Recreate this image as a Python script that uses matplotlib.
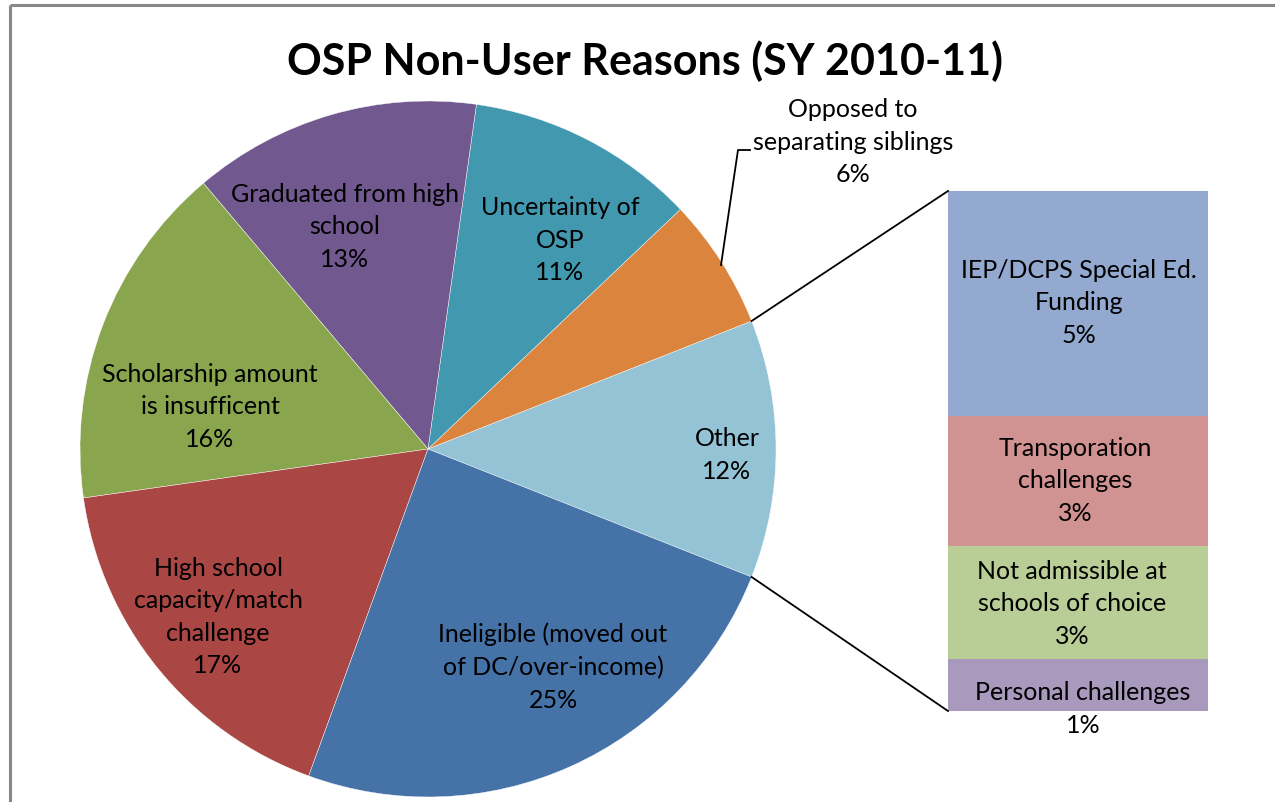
import numpy as np
import matplotlib
matplotlib.use("Agg")
import matplotlib.pyplot as plt

plt.rcParams['font.family'] = ['Lato', 'DejaVu Sans']

# ---- data ----
title = "OSP Non-User Reasons (SY 2010-11)"
pie_labels = ["Other", "Opposed to\nseparating siblings", "Uncertainty of\nOSP",
              "Graduated from high\nschool", "Scholarship amount\nis insufficent",
              "High school\ncapacity/match\nchallenge", "Ineligible (moved out\nof DC/over-income)"]
pie_values = [12.0, 6.1, 10.7, 13.4, 16.1, 17.2, 24.6]
pie_colors = ["#93C3D5", "#DB843D", "#4198AF", "#71588F", "#89A54E", "#AA4643", "#4572A7"]

bar_labels = ["IEP/DCPS Special Ed.\nFunding", "Transporation\nchallenges",
              "Not admissible at\nschools of choice", "Personal challenges"]
bar_values = [5.2, 3.0, 2.6, 1.2]
bar_colors = ["#93A9CF", "#D19392", "#B9CD96", "#A99ABD"]

W, H = 1275, 803
fig = plt.figure(figsize=(W / 100, H / 100), dpi=100)

# bar of pie (drawn underneath the main overlay axes)
bx0, bx1, by0, by1 = 948, 1208, 192, 712
bax = fig.add_axes([bx0 / W, 1 - by1 / H, (bx1 - bx0) / W, (by1 - by0) / H])
bax.set_zorder(1)
total = sum(bar_values)
bottoms = np.concatenate([[0], np.cumsum(bar_values)[:-1]])
for v, b, c in zip(bar_values, bottoms, bar_colors):
    bax.bar([0], [v], bottom=[b], width=1.0, color=c, edgecolor='none')
bax.set_xlim(-0.5, 0.5)
bax.set_ylim(total, 0)
bax.axis('off')

ax = fig.add_axes([0, 0, 1, 1])
ax.set_zorder(2)
ax.patch.set_visible(False)
ax.set_xlim(0, W)
ax.set_ylim(0, H)
ax.set_aspect('equal')
ax.axis('off')

def Y(yp):
    return H - yp

# border (chart area, cropped on right/bottom)
ax.plot([10, 10], [Y(6), 0], color="#888888", lw=2.2, solid_capstyle='butt')
ax.plot([10, W], [Y(6), Y(6)], color="#888888", lw=2.2, solid_capstyle='butt')

# pie
pie_total = sum(pie_values)
cx, cy, R = 428, Y(450), 348
start = -pie_values[0] / pie_total * 360 / 2
wedges, _ = ax.pie(pie_values, colors=pie_colors, startangle=start, counterclock=True,
                   center=(cx, cy), radius=R, frame=True,
                   wedgeprops=dict(edgecolor="white", linewidth=0.3))
ax.set_xlim(0, W)
ax.set_ylim(0, H)
ax.axis('off')

fs = 18
ls = 1.5
pie_label_pos = [(727, 455), (853, 142), (560, 240), (345, 227), (210, 407), (218, 617), (553, 667)]
for lab, v, (px, py) in zip(pie_labels, pie_values, pie_label_pos):
    pct = int(round(v / pie_total * 100))
    ax.text(px, Y(py), f"{lab}\n{pct}%", ha='center', va='center', fontsize=fs,
            linespacing=ls, color="black")

# leader line for "Opposed"
ax.plot([721, 738, 750], [Y(266), Y(151), Y(151)], color="black", lw=1.3)

bar_label_pos = [(1079, 303), (1075, 481), (1072, 604), (1083, 709)]
for lab, v, (px, py) in zip(bar_labels, bar_values, bar_label_pos):
    pct = int(round(v / pie_total * 100))
    ax.text(px, Y(py), f"{lab}\n{pct}%", ha='center', va='center', fontsize=fs,
            linespacing=ls, color="black")

# connector lines
a1 = np.deg2rad(start)
a2 = np.deg2rad(-start)
ax.plot([cx + R * np.cos(a2), bx0], [cy + R * np.sin(a2), Y(by0)], color="black", lw=1.3)
ax.plot([cx + R * np.cos(a1), bx0], [cy + R * np.sin(a1), Y(by1)], color="black", lw=1.3)

ax.text(645, Y(61), title, ha='center', va='center', fontsize=31, fontweight='bold')

fig.savefig("out.png", dpi=100)
